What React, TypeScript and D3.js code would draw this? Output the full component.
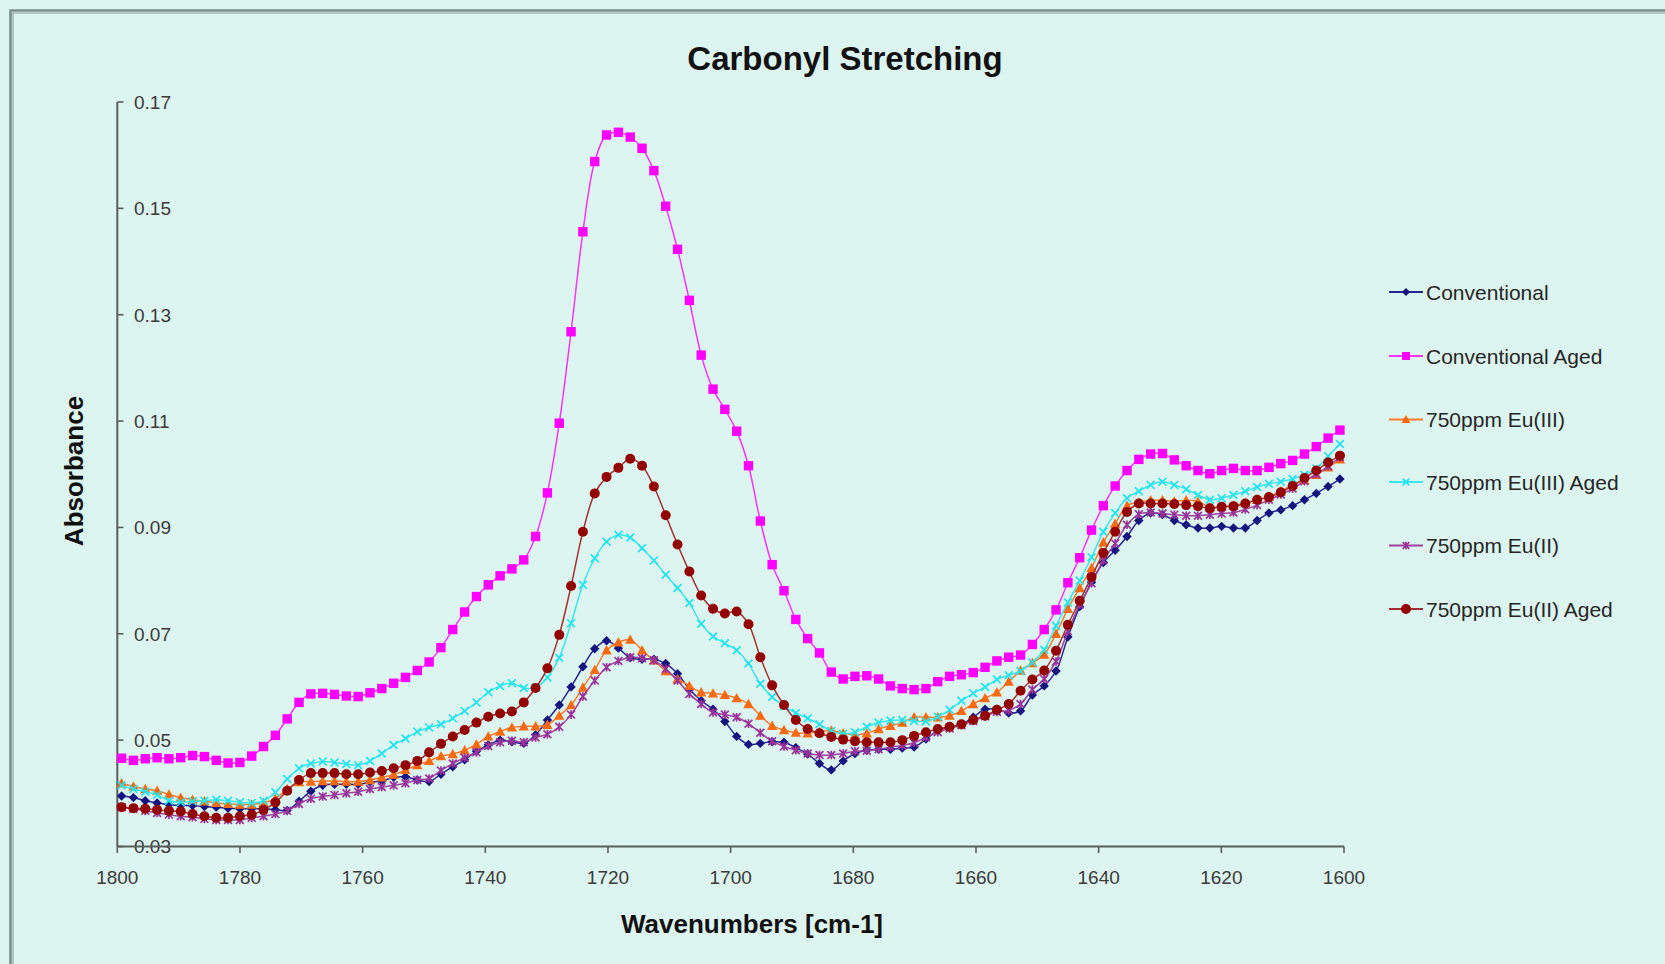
import React from 'react';
import * as d3 from 'd3';

// Instrument sampling grid (cm-1): first sample and spacing
const WN_START = 1799.3;
const WN_STEP = 1.9285;
const wavenumbers: number[] = d3.range(104).map((i) => WN_START - i * WN_STEP);

const conventional = [
  0.0395, 0.0392, 0.0386, 0.0382, 0.0379, 0.0377, 0.0377, 0.0375, 0.0374, 0.0372,
  0.0371, 0.0371, 0.0371, 0.0369, 0.0368, 0.0385, 0.0404, 0.0415, 0.0417, 0.0417,
  0.0417, 0.0421, 0.0423, 0.0430, 0.0431, 0.0425, 0.0422, 0.0436, 0.0450, 0.0463,
  0.0479, 0.0491, 0.0500, 0.0497, 0.0494, 0.0510, 0.0538, 0.0566, 0.0600, 0.0638,
  0.0672, 0.0687, 0.0673, 0.0655, 0.0652, 0.0652, 0.0644, 0.0625, 0.0596, 0.0574,
  0.0558, 0.0535, 0.0507, 0.0492, 0.0494, 0.0497, 0.0496, 0.0486, 0.0474, 0.0456,
  0.0444, 0.0461, 0.0475, 0.0481, 0.0483, 0.0483, 0.0485, 0.0487, 0.0502, 0.0518,
  0.0525, 0.0530, 0.0543, 0.0558, 0.0558, 0.0551, 0.0555, 0.0585, 0.0602, 0.0630,
  0.0694, 0.0751, 0.0797, 0.0834, 0.0857, 0.0883, 0.0913, 0.0927, 0.0924, 0.0913,
  0.0905, 0.0899, 0.0899, 0.0902, 0.0899, 0.0899, 0.0913, 0.0927, 0.0933, 0.0941,
  0.0952, 0.0964, 0.0977, 0.0991,
];

const conventionalAged = [
  0.0466, 0.0462, 0.0465, 0.0467, 0.0465, 0.0467, 0.0471, 0.0469, 0.0462, 0.0457,
  0.0458, 0.0470, 0.0488, 0.0509, 0.0540, 0.0571, 0.0587, 0.0588, 0.0586, 0.0583,
  0.0582, 0.0589, 0.0597, 0.0607, 0.0618, 0.0631, 0.0647, 0.0674, 0.0708, 0.0741,
  0.0770, 0.0792, 0.0809, 0.0822, 0.0839, 0.0883, 0.0965, 0.1096, 0.1268, 0.1456,
  0.1588, 0.1638, 0.1643, 0.1634, 0.1613, 0.1571, 0.1504, 0.1423, 0.1327, 0.1224,
  0.1160, 0.1122, 0.1081, 0.1016, 0.0912, 0.0830, 0.0781, 0.0727, 0.0691, 0.0664,
  0.0628, 0.0615, 0.0620, 0.0621, 0.0615, 0.0602, 0.0597, 0.0595, 0.0597, 0.0610,
  0.0620, 0.0623, 0.0627, 0.0637, 0.0649, 0.0656, 0.0660, 0.0680, 0.0708, 0.0745,
  0.0796, 0.0843, 0.0895, 0.0941, 0.0978, 0.1007, 0.1028, 0.1038, 0.1039, 0.1027,
  0.1016, 0.1007, 0.1001, 0.1007, 0.1011, 0.1007, 0.1007, 0.1013, 0.1020, 0.1026,
  0.1038, 0.1052, 0.1068, 0.1083,
];

const euIII = [
  0.0419, 0.0413, 0.0408, 0.0405, 0.0398, 0.0392, 0.0388, 0.0385, 0.0382, 0.0380,
  0.0379, 0.0379, 0.0382, 0.0390, 0.0408, 0.0421, 0.0422, 0.0423, 0.0423, 0.0422,
  0.0422, 0.0425, 0.0430, 0.0435, 0.0444, 0.0453, 0.0461, 0.0470, 0.0474, 0.0481,
  0.0492, 0.0507, 0.0516, 0.0524, 0.0526, 0.0526, 0.0529, 0.0546, 0.0566, 0.0599,
  0.0632, 0.0669, 0.0684, 0.0689, 0.0669, 0.0650, 0.0630, 0.0615, 0.0602, 0.0590,
  0.0588, 0.0585, 0.0579, 0.0568, 0.0546, 0.0527, 0.0519, 0.0514, 0.0513, 0.0516,
  0.0518, 0.0513, 0.0510, 0.0513, 0.0521, 0.0527, 0.0533, 0.0543, 0.0543, 0.0543,
  0.0546, 0.0555, 0.0568, 0.0579, 0.0590, 0.0610, 0.0631, 0.0645, 0.0661, 0.0700,
  0.0747, 0.0786, 0.0824, 0.0872, 0.0907, 0.0941, 0.0947, 0.0951, 0.0951, 0.0949,
  0.0951, 0.0949, 0.0938, 0.0939, 0.0941, 0.0946, 0.0952, 0.0958, 0.0968, 0.0980,
  0.0989, 0.0999, 0.1013, 0.1028,
];

const euIIIAged = [
  0.0415, 0.0408, 0.0403, 0.0397, 0.0386, 0.0383, 0.0385, 0.0386, 0.0388, 0.0386,
  0.0383, 0.0382, 0.0386, 0.0402, 0.0427, 0.0447, 0.0456, 0.0460, 0.0458, 0.0455,
  0.0453, 0.0461, 0.0475, 0.0491, 0.0503, 0.0516, 0.0524, 0.0530, 0.0541, 0.0555,
  0.0571, 0.0590, 0.0602, 0.0607, 0.0598, 0.0599, 0.0618, 0.0655, 0.0720, 0.0792,
  0.0842, 0.0873, 0.0886, 0.0881, 0.0861, 0.0838, 0.0811, 0.0786, 0.0758, 0.0719,
  0.0695, 0.0682, 0.0669, 0.0644, 0.0606, 0.0581, 0.0564, 0.0551, 0.0541, 0.0530,
  0.0517, 0.0512, 0.0515, 0.0525, 0.0533, 0.0537, 0.0538, 0.0536, 0.0535, 0.0544,
  0.0557, 0.0574, 0.0588, 0.0600, 0.0614, 0.0622, 0.0630, 0.0646, 0.0670, 0.0715,
  0.0759, 0.0800, 0.0844, 0.0892, 0.0927, 0.0955, 0.0968, 0.0980, 0.0986, 0.0980,
  0.0972, 0.0961, 0.0952, 0.0955, 0.0961, 0.0968, 0.0976, 0.0982, 0.0986, 0.0991,
  0.0999, 0.1011, 0.1034, 0.1057,
];

const euII = [
  0.0374, 0.0371, 0.0367, 0.0363, 0.0360, 0.0357, 0.0355, 0.0352, 0.0350, 0.0350,
  0.0350, 0.0354, 0.0357, 0.0361, 0.0367, 0.0380, 0.0390, 0.0394, 0.0397, 0.0400,
  0.0403, 0.0408, 0.0412, 0.0415, 0.0419, 0.0425, 0.0428, 0.0443, 0.0456, 0.0467,
  0.0477, 0.0489, 0.0496, 0.0499, 0.0496, 0.0505, 0.0511, 0.0525, 0.0548, 0.0582,
  0.0612, 0.0637, 0.0649, 0.0656, 0.0654, 0.0650, 0.0634, 0.0612, 0.0587, 0.0568,
  0.0552, 0.0548, 0.0543, 0.0531, 0.0514, 0.0498, 0.0488, 0.0481, 0.0475, 0.0472,
  0.0472, 0.0475, 0.0479, 0.0480, 0.0483, 0.0487, 0.0490, 0.0495, 0.0505, 0.0515,
  0.0522, 0.0528, 0.0536, 0.0545, 0.0553, 0.0556, 0.0568, 0.0595, 0.0615, 0.0648,
  0.0705, 0.0755, 0.0795, 0.0838, 0.0870, 0.0905, 0.0925, 0.0928, 0.0926, 0.0924,
  0.0922, 0.0922, 0.0924, 0.0926, 0.0928, 0.0934, 0.0942, 0.0952, 0.0962, 0.0973,
  0.0987, 0.1000, 0.1015, 0.1032,
];

const euIIAged = [
  0.0374, 0.0372, 0.0371, 0.0369, 0.0367, 0.0366, 0.0361, 0.0357, 0.0354, 0.0354,
  0.0357, 0.0360, 0.0369, 0.0383, 0.0405, 0.0425, 0.0438, 0.0438, 0.0438, 0.0436,
  0.0436, 0.0439, 0.0442, 0.0447, 0.0453, 0.0461, 0.0477, 0.0493, 0.0507, 0.0519,
  0.0533, 0.0544, 0.0550, 0.0554, 0.0571, 0.0598, 0.0635, 0.0698, 0.0790, 0.0892,
  0.0964, 0.0995, 0.1012, 0.1029, 0.1016, 0.0977, 0.0923, 0.0868, 0.0817, 0.0772,
  0.0747, 0.0738, 0.0742, 0.0718, 0.0656, 0.0603, 0.0566, 0.0538, 0.0521, 0.0513,
  0.0506, 0.0501, 0.0498, 0.0496, 0.0496, 0.0496, 0.0500, 0.0508, 0.0515, 0.0521,
  0.0525, 0.0530, 0.0538, 0.0546, 0.0557, 0.0568, 0.0593, 0.0614, 0.0631, 0.0668,
  0.0717, 0.0762, 0.0807, 0.0852, 0.0892, 0.0929, 0.0945, 0.0945, 0.0945, 0.0944,
  0.0942, 0.0940, 0.0936, 0.0939, 0.0940, 0.0945, 0.0952, 0.0957, 0.0966, 0.0978,
  0.0993, 0.1007, 0.1022, 0.1035,
];

const seriesNames = [
  'Conventional',
  'Conventional Aged',
  '750ppm Eu(III)',
  '750ppm Eu(III) Aged',
  '750ppm Eu(II)',
  '750ppm Eu(II) Aged',
];
const seriesValues = [conventional, conventionalAged, euIII, euIIIAged, euII, euIIAged];

const xTicks = [1800, 1780, 1760, 1740, 1720, 1700, 1680, 1660, 1640, 1620, 1600];
const yTicks = [0.03, 0.05, 0.07, 0.09, 0.11, 0.13, 0.15, 0.17];

const TITLE = 'Carbonyl Stretching';
const X_TITLE = 'Wavenumbers [cm-1]';
const Y_TITLE = 'Absorbance';

type MarkerKind = 'diamond' | 'square' | 'triangle' | 'x' | 'star' | 'circle';
const styles: { line: string; fill: string; marker: MarkerKind }[] = [
  { line: '#26268f', fill: '#14147f', marker: 'diamond' },
  { line: '#ff33ff', fill: '#ff00ff', marker: 'square' },
  { line: '#ff7a2a', fill: '#ff6a10', marker: 'triangle' },
  { line: '#3ae6ee', fill: '#22e4ee', marker: 'x' },
  { line: '#a040a0', fill: '#993399', marker: 'star' },
  { line: '#a23030', fill: '#930000', marker: 'circle' },
];

const FONT = '"Liberation Sans", Arial, Helvetica, sans-serif';
const BG = '#ddf5f0';

function Marker({ kind, cx, cy, color, s = 1 }: { kind: MarkerKind; cx: number; cy: number; color: string; s?: number }) {
  switch (kind) {
    case 'diamond': {
      const r = 4.7 * s;
      return <path d={`M${cx},${cy - r}L${cx + r},${cy}L${cx},${cy + r}L${cx - r},${cy}Z`} fill={color} />;
    }
    case 'square': {
      const h = 4.7 * s;
      return <rect x={cx - h} y={cy - h} width={2 * h} height={2 * h} fill={color} />;
    }
    case 'triangle': {
      const h = 5.2 * s;
      return <path d={`M${cx},${cy - h}L${cx + h},${cy + h * 0.8}L${cx - h},${cy + h * 0.8}Z`} fill={color} />;
    }
    case 'x': {
      const h = 3.9 * s;
      return (
        <path d={`M${cx - h},${cy - h}L${cx + h},${cy + h}M${cx - h},${cy + h}L${cx + h},${cy - h}`} stroke={color} strokeWidth={1.7} fill="none" />
      );
    }
    case 'star': {
      const h = 3.9 * s;
      return (
        <path
          d={`M${cx - h},${cy - h}L${cx + h},${cy + h}M${cx - h},${cy + h}L${cx + h},${cy - h}M${cx},${cy - h * 1.1}L${cx},${cy + h * 1.1}`}
          stroke={color}
          strokeWidth={1.7}
          fill="none"
        />
      );
    }
    default:
      return <circle cx={cx} cy={cy} r={5} fill={color} />;
  }
}

export default function App() {
  const W = 1665;
  const H = 964;
  const x = d3.scaleLinear().domain([1800, 1600]).range([117.3, 1344]);
  const y = d3.scaleLinear().domain([0.03, 0.17]).range([846.5, 102]);

  const lineGen = d3
    .line<number>()
    .x((_, i) => x(wavenumbers[i]))
    .y((d) => y(d))
    .curve(d3.curveCatmullRom.alpha(0.5));

  const legendY = [292, 356, 419.5, 482, 545.5, 609];

  return (
    <div style={{ position: 'absolute', left: 0, top: 0, width: W, height: H, background: BG, overflow: 'hidden' }}>
      <svg width={W} height={H} style={{ display: 'block' }} fontFamily={FONT}>
        <rect x={0} y={0} width={W} height={H} fill={BG} />
        {/* frame */}
        <path d={`M11.5,${H + 5}V11.5H${W + 5}`} fill="none" stroke="#b2c5c1" strokeWidth={5} />
        <path d={`M10.5,${H + 5}V10.5H${W + 5}`} fill="none" stroke="#78908b" strokeWidth={2.2} />

        {/* title */}
        <text x={845} y={70} textAnchor="middle" fontSize={33} fontWeight="bold" fill="#111">
          {TITLE}
        </text>

        {/* y axis */}
        <line x1={117.3} x2={117.3} y1={y(0.17)} y2={y(0.03)} stroke="#5a5f5e" strokeWidth={2} />
        {yTicks.map((t) => (
          <g key={`yt${t}`}>
            <line x1={117.3} x2={123.5} y1={y(t)} y2={y(t)} stroke="#5a5f5e" strokeWidth={1.6} />
            <text x={134} y={y(t)} dy="0.36em" fontSize={19} fill="#3a3a3a">
              {t.toFixed(2)}
            </text>
          </g>
        ))}

        {/* x axis */}
        <line x1={x(1800)} x2={x(1600)} y1={846.5} y2={846.5} stroke="#5a5f5e" strokeWidth={2} />
        {xTicks.map((t) => (
          <g key={`xt${t}`}>
            <line x1={x(t)} x2={x(t)} y1={846.5} y2={853} stroke="#5a5f5e" strokeWidth={1.6} />
            <text x={x(t)} y={884} textAnchor="middle" fontSize={19} fill="#3a3a3a">
              {t}
            </text>
          </g>
        ))}

        {/* axis titles */}
        <text x={752} y={933} textAnchor="middle" fontSize={26} fontWeight="bold" fill="#111">
          {X_TITLE}
        </text>
        <text transform="translate(83,471) rotate(-90)" textAnchor="middle" fontSize={26} fontWeight="bold" fill="#111">
          {Y_TITLE}
        </text>

        {/* series */}
        {seriesValues.map((vals, si) => (
          <g key={`s${si}`}>
            <path d={lineGen(vals) || ''} fill="none" stroke={styles[si].line} strokeWidth={1.5} />
            {vals.map((v, i) => (
              <Marker key={i} kind={styles[si].marker} cx={x(wavenumbers[i])} cy={y(v)} color={styles[si].fill} />
            ))}
          </g>
        ))}

        {/* legend */}
        {seriesNames.map((name, si) => (
          <g key={`lg${si}`}>
            <line x1={1389} x2={1423} y1={legendY[si]} y2={legendY[si]} stroke={styles[si].line} strokeWidth={2} />
            <Marker kind={styles[si].marker} cx={1406} cy={legendY[si]} color={styles[si].fill} s={0.85} />
            <text x={1426} y={legendY[si]} dy="0.36em" fontSize={21} fill="#262626">
              {name}
            </text>
          </g>
        ))}
      </svg>
    </div>
  );
}
